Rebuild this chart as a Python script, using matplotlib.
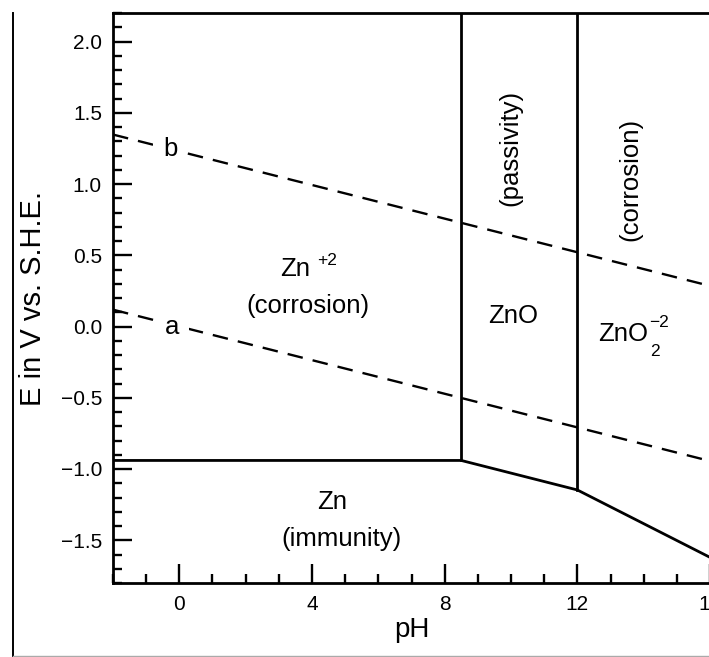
import matplotlib
matplotlib.use("Agg")
import matplotlib.pyplot as plt
from matplotlib.lines import Line2D
from matplotlib.ticker import MultipleLocator, FixedLocator, FuncFormatter

plt.rcParams['font.family'] = ['Liberation Sans', 'DejaVu Sans']
plt.rcParams['axes.unicode_minus'] = True

# ---- data ----
ph_limits = [-2, 16]
e_limits = [-1.8, 2.2]

# stability boundaries (pH, E)
zn_boundary_ph = [-2, 8.5, 12.0, 16.0]
zn_boundary_e = [-0.94, -0.94, -1.147, -1.62]
zno_left_ph = [8.5, 8.5]
zno_left_e = [-0.94, 2.2]
zno_right_ph = [12.0, 12.0]
zno_right_e = [-1.147, 2.2]

# water stability lines
water_ph = [-2, 16]
line_a_e = [0.118, -0.944]
line_b_e = [1.347, 0.285]

x_major_ticks = [0, 4, 8, 12, 16]
y_major_ticks = [-1.5, -1.0, -0.5, 0.0, 0.5, 1.0, 1.5, 2.0]

W, H = 709, 657
fig = plt.figure(figsize=(W / 100, H / 100), dpi=100)
fig.patch.set_facecolor('white')

left_px, right_px, top_px, bottom_px = 113, 710, 13, 583
ax = fig.add_axes([left_px / W, 1 - bottom_px / H,
                   (right_px - left_px) / W, (bottom_px - top_px) / H])

ax.set_xlim(*ph_limits)
ax.set_ylim(*e_limits)

lw = 2.0
ax.plot(zn_boundary_ph, zn_boundary_e, color='black', lw=lw, solid_joinstyle='miter')
ax.plot(zno_left_ph, zno_left_e, color='black', lw=lw)
ax.plot(zno_right_ph, zno_right_e, color='black', lw=lw)

dlw = 1.7
ax.plot(water_ph, line_a_e, color='black', lw=dlw, dashes=(6.6, 4.3))
ax.plot(water_ph, line_b_e, color='black', lw=dlw, dashes=(6.6, 4.3))

lab_fs = 18.5
bb = dict(facecolor='white', edgecolor='none', pad=7)
ax.text(-0.27, 1.245, 'b', fontsize=lab_fs, ha='center', va='center', bbox=bb)
ax.text(-0.22, 0.0, 'a', fontsize=lab_fs, ha='center', va='center', bbox=bb)

# region labels
ax.text(3.05, 0.40, 'Zn', fontsize=lab_fs, ha='left', va='center')
ax.text(4.15, 0.46, '+2', fontsize=12.5, ha='left', va='center')
ax.text(3.89, 0.147, '(corrosion)', fontsize=lab_fs, ha='center', va='center')

ax.text(10.07, 0.077, 'ZnO', fontsize=lab_fs, ha='center', va='center')

ax.text(12.62, -0.056, 'ZnO', fontsize=lab_fs, ha='left', va='center')
ax.text(14.2, -0.175, '2', fontsize=12.5, ha='left', va='center')
ax.text(14.15, 0.025, '\u22122', fontsize=12.5, ha='left', va='center')

ax.text(4.6, -1.234, 'Zn', fontsize=lab_fs, ha='center', va='center')
ax.text(4.9, -1.493, '(immunity)', fontsize=lab_fs, ha='center', va='center')

ax.text(9.98, 1.25, '(passivity)', fontsize=lab_fs, ha='center', va='center', rotation=90)
ax.text(13.6, 1.03, '(corrosion)', fontsize=lab_fs, ha='center', va='center', rotation=90)

# axes styling
for side in ['left', 'bottom', 'top', 'right']:
    ax.spines[side].set_linewidth(2.0)

ax.xaxis.set_major_locator(FixedLocator(x_major_ticks))
ax.xaxis.set_minor_locator(MultipleLocator(1))
ax.yaxis.set_major_locator(FixedLocator(y_major_ticks))
ax.yaxis.set_minor_locator(MultipleLocator(0.1))
ax.yaxis.set_major_formatter(FuncFormatter(lambda v, p: f'{v:.1f}'.replace('-', '\u2212')))

ax.tick_params(which='both', direction='in', top=False, right=False, width=1.7)
ax.tick_params(which='major', length=13.5, labelsize=15)
ax.tick_params(which='minor', length=6.5)
ax.tick_params(axis='y', which='major', pad=8)
ax.tick_params(axis='x', which='major', pad=9)

ax.set_xlabel('pH', fontsize=20, labelpad=2)
ax.set_ylabel('E in V vs. S.H.E.', fontsize=21, labelpad=10)

# outer frame lines of the original figure
fig.add_artist(Line2D([12.5 / W, 12.5 / W], [0, 1 - 13 / H], color='black', lw=1.4,
                      transform=fig.transFigure))
fig.add_artist(Line2D([12.5 / W, 1], [1 / H, 1 / H], color='#aaaaaa', lw=1.0,
                      transform=fig.transFigure))

fig.savefig('out.png', dpi=100)
